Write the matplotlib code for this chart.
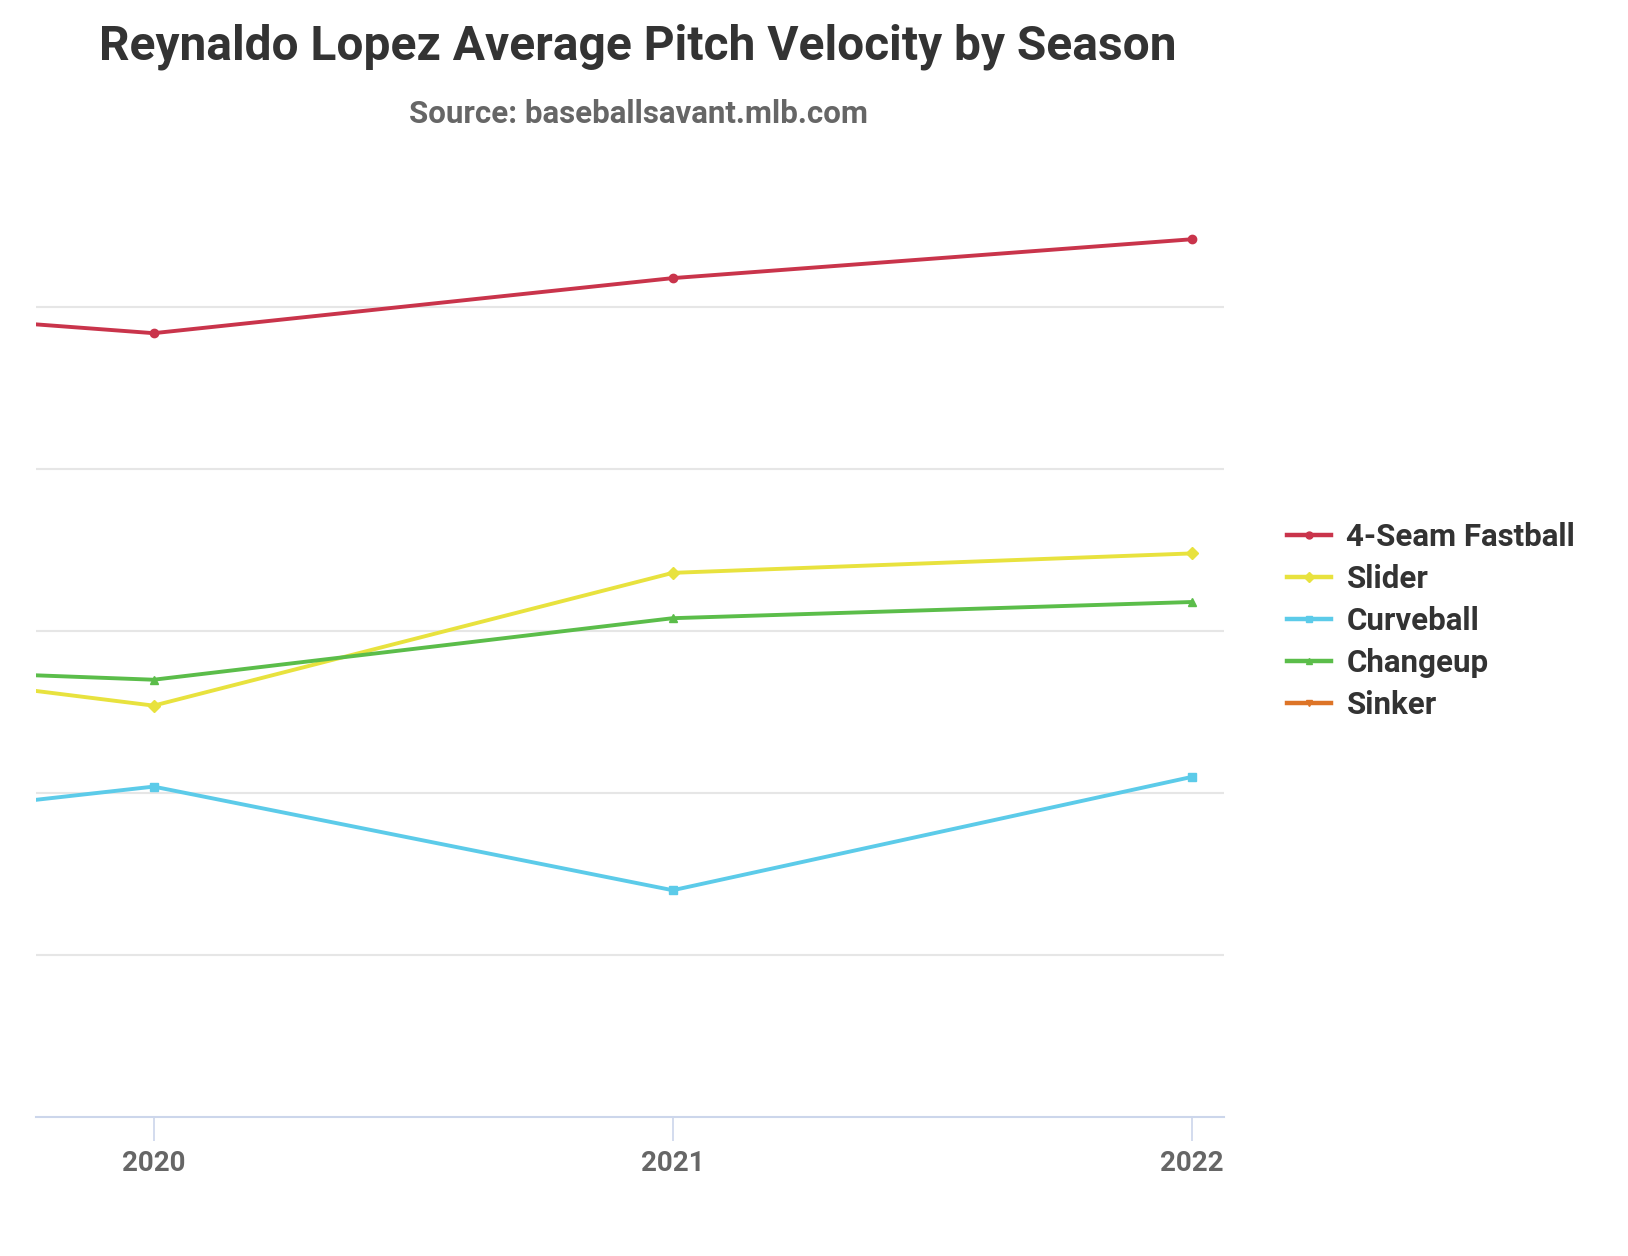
import numpy as np
import matplotlib
matplotlib.use("Agg")
import matplotlib.pyplot as plt
from matplotlib.lines import Line2D

# Seasons (2019 sits just off the left edge of the visible plot)
seasons = [2019, 2020, 2021, 2022]

# Average velocity (mph)
fastball = [95.4, 94.2, 95.9, 97.1]
slider = [84.7, 82.7, 86.8, 87.4]
curveball = [78.4, 80.2, 77.0, 80.5]
changeup = [84.1, 83.5, 85.4, 85.9]
sinker = [np.nan, np.nan, np.nan, np.nan]

pitch_names = ["4-Seam Fastball", "Slider", "Curveball", "Changeup", "Sinker"]
series = [fastball, slider, curveball, changeup, sinker]
colors = ["#c9344b", "#e8e23e", "#5ccbe9", "#5bbd4a", "#dd7427"]
markers = ["o", "D", "s", "^", "v"]

grid_values = [75, 80, 85, 90, 95]
tick_years = [2020, 2021, 2022]

plt.rcParams["font.family"] = ["Roboto", "DejaVu Sans"]

fig = plt.figure(figsize=(16.28, 12.56), dpi=100)
ax = fig.add_axes([0.0223, 0.1107, 0.7296, 0.7607])

for vals, name, c, m in zip(series, pitch_names, colors, markers):
    ax.plot(seasons, vals, color=c, lw=2.8, marker=m, markersize=6,
            label=name, zorder=3)

ax.set_xlim(2019.774, 2022.062)
ax.set_ylim(70, 99.5)

# gridlines
for g in grid_values:
    ax.axhline(g, color="#e6e6e6", lw=1.5, zorder=1)

ax.set_yticks([])
ax.set_xticks(tick_years)
ax.set_xticklabels([str(y) for y in tick_years], fontsize=20,
                   fontweight="bold", color="#666666")
ax.tick_params(axis="x", length=17, width=1.2, color="#ccd6eb", pad=7)

for side in ["top", "right", "left"]:
    ax.spines[side].set_visible(False)
ax.spines["bottom"].set_color("#ccd6eb")
ax.spines["bottom"].set_linewidth(1.5)

fig.text(0.392, 0.963, "Reynaldo Lopez Average Pitch Velocity by Season",
         ha="center", va="center", fontsize=34.5, fontweight="bold",
         color="#333333")
fig.text(0.392, 0.909, "Source: baseballsavant.mlb.com",
         ha="center", va="center", fontsize=22.5, fontweight="bold",
         color="#666666")

handles = [Line2D([], [], color=c, lw=3.2, marker=m, markersize=5)
           for c, m in zip(colors, markers)]
leg = fig.legend(handles, pitch_names, loc="center left",
                 bbox_to_anchor=(0.781, 0.5056), frameon=False,
                 fontsize=22.5, handlelength=1.4, handletextpad=0.5,
                 labelspacing=0.38, borderpad=0)
for t in leg.get_texts():
    t.set_fontweight("bold")
    t.set_color("#333333")

fig.savefig("out.png", dpi=100, facecolor="white")
